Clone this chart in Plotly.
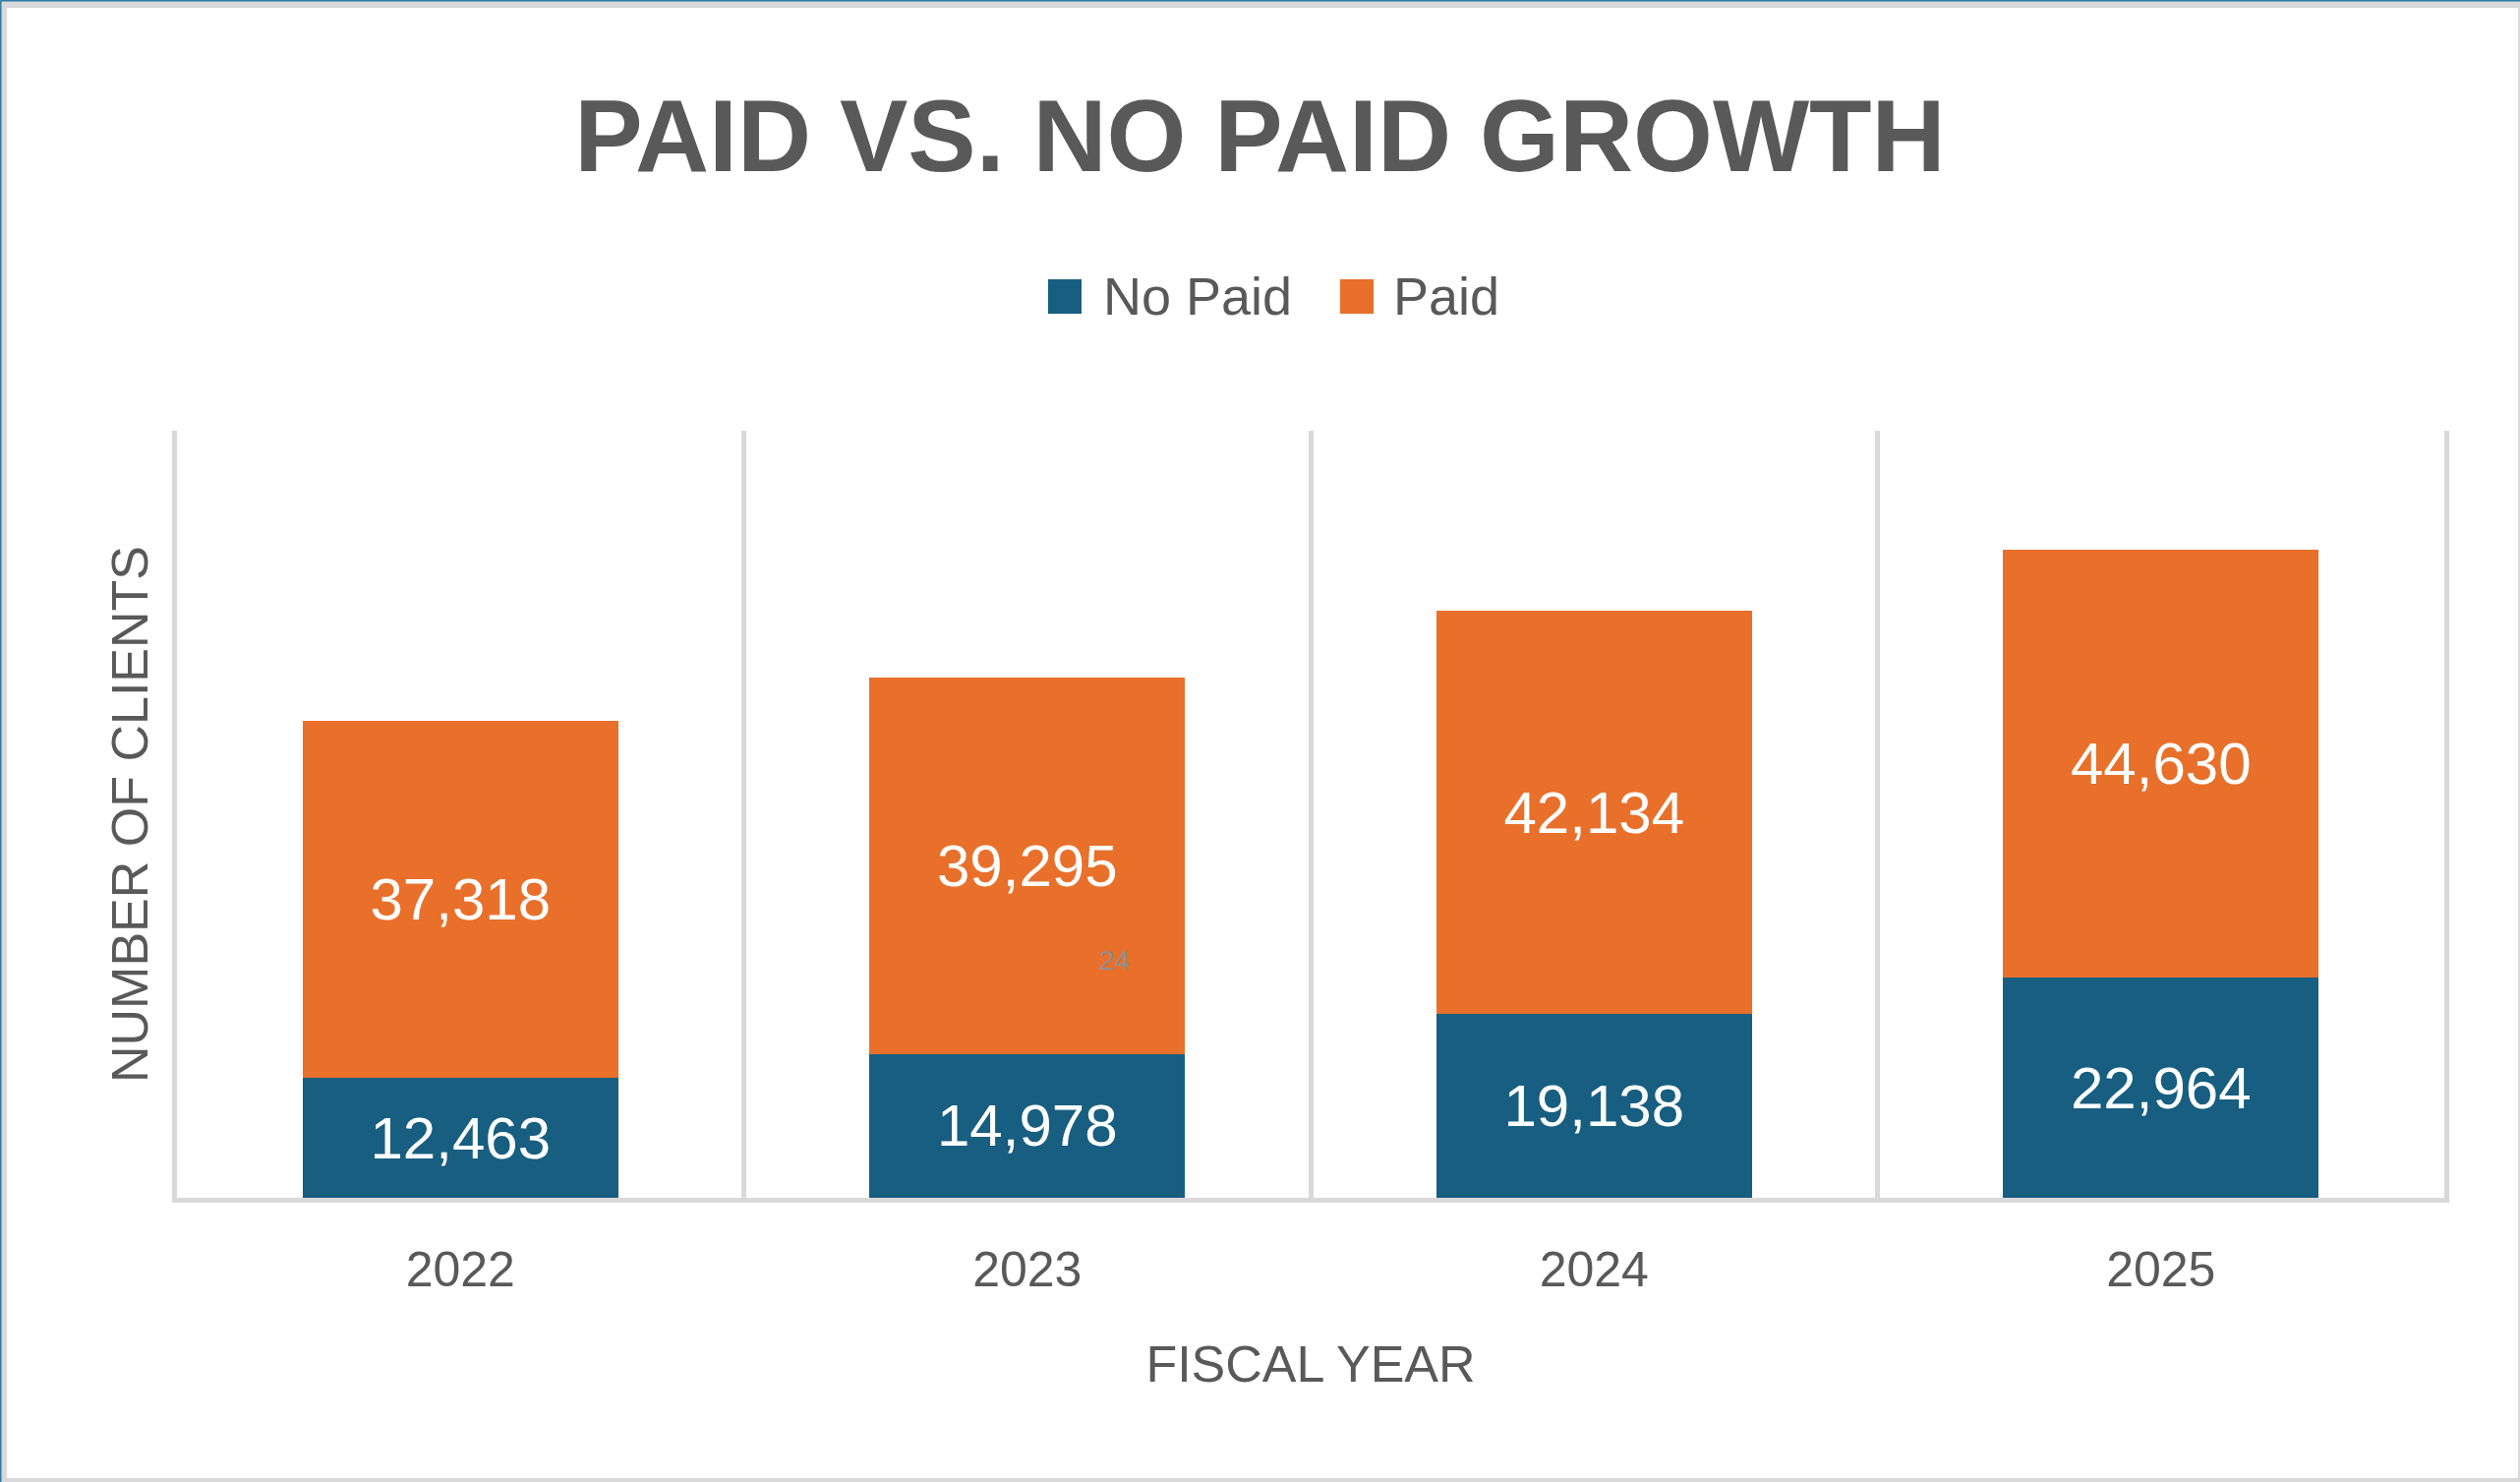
import plotly.graph_objects as go

# chart values
years = ["2022", "2023", "2024", "2025"]
no_paid = [12463, 14978, 19138, 22964]
paid = [37318, 39295, 42134, 44630]
series_names = ["No Paid", "Paid"]
series_colors = ["#175E80", "#E8702A"]

FIG_W, FIG_H = 2563, 1507
M_L, M_R, M_T, M_B = 180, 77, 438, 289
PLOT_W = FIG_W - M_L - M_R
PLOT_H = FIG_H - M_T - M_B
TXT = "#595959"
GRID = "#D9D9D9"
FONT = "Liberation Sans, Arial, sans-serif"


def px(x, y):  # figure pixel -> paper coords
    return (x - M_L) / PLOT_W, (FIG_H - M_B - y) / PLOT_H


fig = go.Figure()
for name, vals, col in zip(series_names, [no_paid, paid], series_colors):
    fig.add_trace(go.Bar(
        x=years, y=vals, name=name, marker=dict(color=col, line=dict(width=0)),
        texttemplate="%{y:,}", textposition="inside", insidetextanchor="middle",
        textfont=dict(family=FONT, size=60, color="white"), constraintext="none",
    ))

shapes = []
# white card on grey border
x0, y0 = px(7, 1503)
x1, y1 = px(2561, 8)
shapes.append(dict(type="rect", xref="paper", yref="paper", x0=x0, y0=y0, x1=x1, y1=y1,
                   fillcolor="white", line=dict(width=0), layer="below"))
# thin blue edge top/left
ax0, ay0 = px(0.5, 0)
ax1, ay1 = px(FIG_W, 0.5)
shapes.append(dict(type="line", xref="paper", yref="paper", x0=ax0, y0=ay1, x1=ax1, y1=ay1,
                   line=dict(color="#2E7DA6", width=2)))
bx, by = px(0.5, FIG_H)
shapes.append(dict(type="line", xref="paper", yref="paper", x0=bx, y0=by, x1=bx, y1=ay1,
                   line=dict(color="#2E7DA6", width=2)))

annotations = []
# hand-drawn legend (big squares like the original)
sq_x = [1066, 1363]
txt_x = [1120, 1415]
for name, col, sx, tx in zip(series_names, series_colors, sq_x, txt_x):
    a, b = px(sx, 319)
    c, d = px(sx + 34, 284)
    shapes.append(dict(type="rect", xref="paper", yref="paper", x0=a, y0=b, x1=c, y1=d,
                       fillcolor=col, line=dict(width=0)))
    tx_p, ty_p = px(tx, 301)
    annotations.append(dict(text=name, xref="paper", yref="paper", x=tx_p, y=ty_p,
                            xanchor="left", yanchor="middle", showarrow=False,
                            font=dict(family=FONT, size=54, color=TXT)))

# stray small label seen in the original
sx_p, sy_p = px(1133, 994)
annotations.append(dict(text="24", xref="paper", yref="paper", x=sx_p, y=sy_p,
                        showarrow=False, font=dict(family=FONT, size=28, color="#8C8F92")))

fig.update_layout(
    width=FIG_W, height=FIG_H,
    margin=dict(l=M_L, r=M_R, t=M_T, b=M_B, autoexpand=False),
    paper_bgcolor=GRID, plot_bgcolor="white",
    barmode="stack", bargap=0.443, showlegend=False,
    title=dict(text="<b>PAID VS. NO PAID GROWTH</b>", x=0.5, xanchor="center",
               y=1 - 137.5 / FIG_H, yanchor="middle", yref="container",
               font=dict(family=FONT, size=104, color=TXT)),
    xaxis=dict(type="category", range=[-0.5, 3.5], tickson="boundaries", ticks="",
               showgrid=True, gridcolor=GRID, gridwidth=5,
               showline=True, linecolor=GRID, linewidth=5,
               tickfont=dict(family=FONT, size=50, color=TXT), ticklabelstandoff=25,
               title=dict(text="FISCAL YEAR", standoff=52,
                          font=dict(family=FONT, size=52, color=TXT))),
    yaxis=dict(range=[0, 80000], showgrid=False, zeroline=False, showticklabels=False,
               ticks="", showline=True, mirror=True, linecolor=GRID, linewidth=5,
               title=dict(text="NUMBER OF CLIENTS", standoff=9,
                          font=dict(family=FONT, size=52, color=TXT))),
    shapes=shapes, annotations=annotations,
)

# page body has a default 8px margin; drop it so the card sits flush
fig.write_html("out.html", config={"displayModeBar": False},
               post_script="document.body.style.margin='0px';")
